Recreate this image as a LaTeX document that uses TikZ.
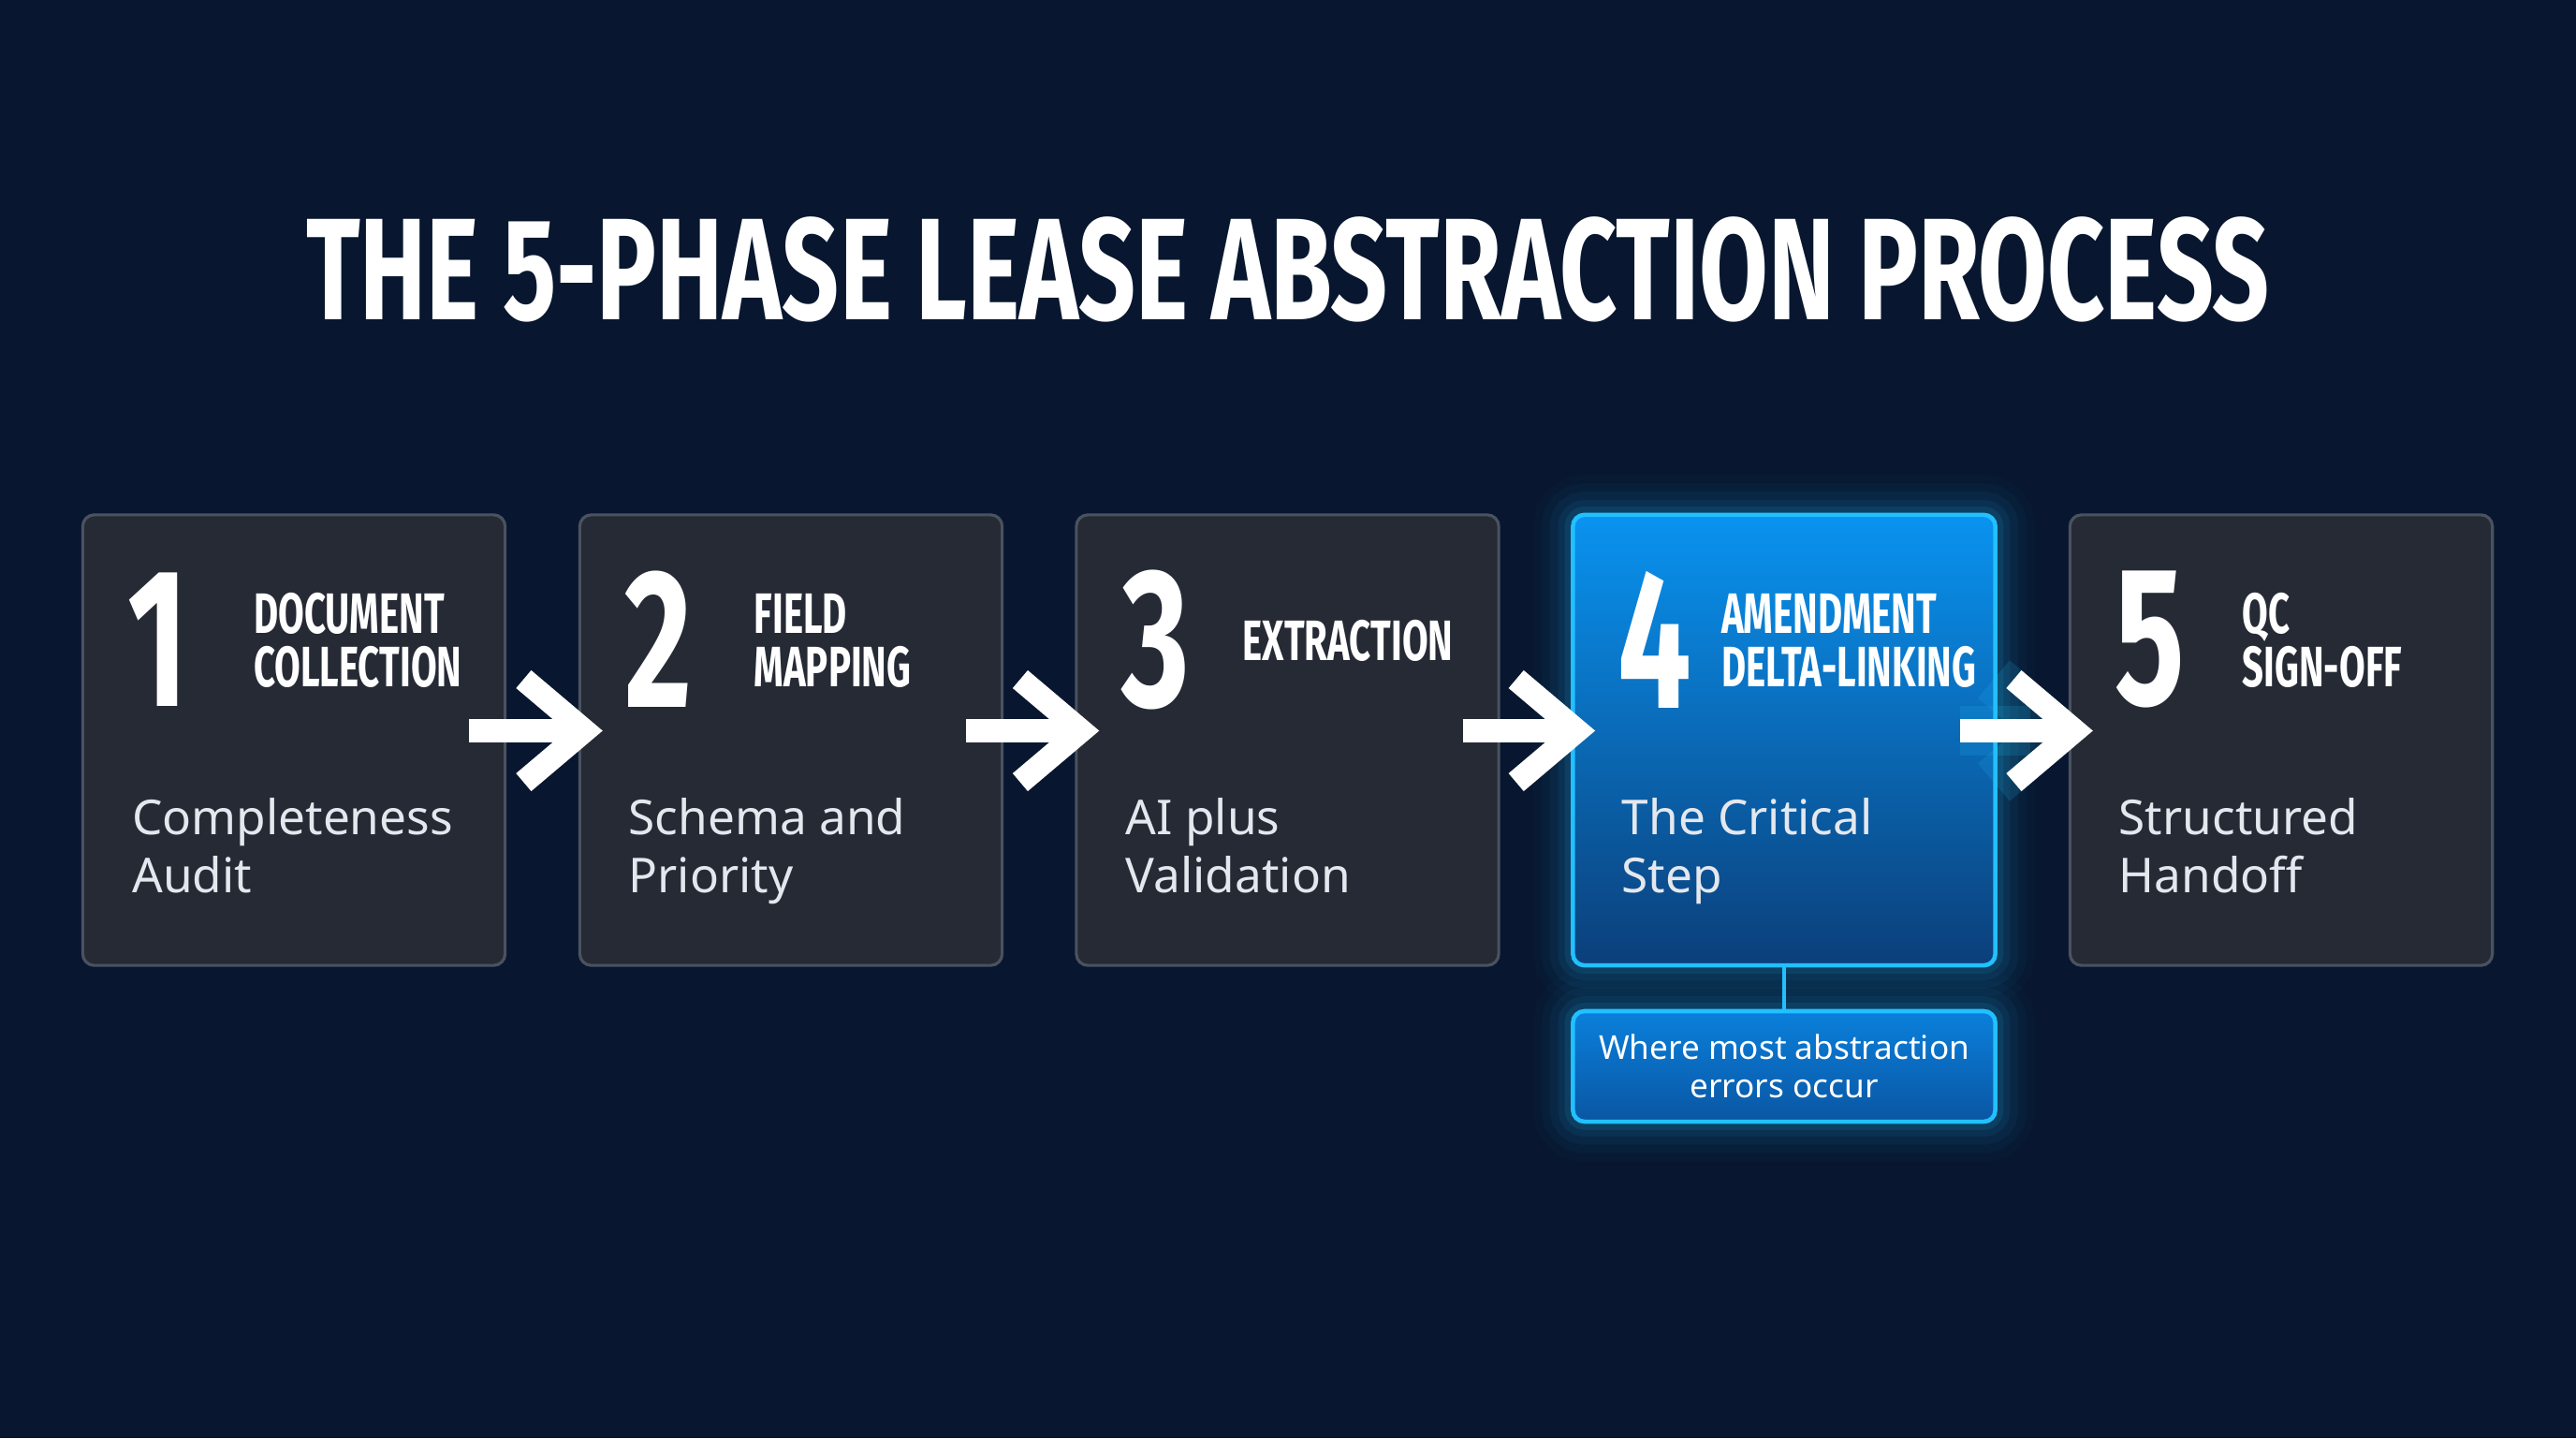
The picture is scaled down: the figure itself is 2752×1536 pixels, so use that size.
\documentclass[tikz,border=0pt]{standalone}
\usepackage{fontspec}
\setmainfont{Noto Sans}
\newfontfamily\condfont[FakeStretch=0.66]{Fira Sans}
\newfontfamily\titlefont[FakeStretch=0.69]{Fira Sans}
\usetikzlibrary{arrows.meta,calc}

\definecolor{bgnavy}{HTML}{08172F}
\definecolor{cardfill}{HTML}{252A35}
\definecolor{cardline}{HTML}{4A525F}
\definecolor{hotline}{HTML}{22C0FF}
\definecolor{hottop}{HTML}{0993F0}
\definecolor{hotbot}{HTML}{0B3F7A}
\definecolor{notetop}{HTML}{0A80DC}
\definecolor{notebot}{HTML}{0A56A3}
\definecolor{bodytext}{HTML}{E4E8EE}

\begin{document}
\begin{tikzpicture}[x=0.01cm,y=-0.01cm,
  card/.style={draw=cardline,line width=0.9pt,fill=cardfill,rounded corners=3.5pt,
    minimum width=4.51cm,minimum height=4.81cm,inner sep=0},
  glow/.style={preaction={draw=hotline,opacity=0.025,line width=24pt},
    preaction={draw=hotline,opacity=0.035,line width=19pt},
    preaction={draw=hotline,opacity=0.05,line width=14pt},
    preaction={draw=hotline,opacity=0.07,line width=9pt},
    preaction={draw=hotline,opacity=0.1,line width=5pt}},
  hotcard/.style={card,glow,draw=hotline,line width=1.3pt,top color=hottop,bottom color=hotbot},
  note/.style={glow,draw=hotline,line width=1.3pt,top color=notetop,bottom color=notebot,
    rounded corners=3.5pt,minimum width=4.51cm,minimum height=1.18cm,inner sep=0,
    align=center,text=white,font=\fontsize{10}{11.5}\selectfont},
  num/.style={font=\condfont\bfseries\fontsize{60}{60}\selectfont,text=white,anchor=west,inner sep=0},
  head/.style={font=\condfont\bfseries\fontsize{17.3}{16.2}\selectfont,text=white,
    anchor=west,align=left,inner sep=0},
  body/.style={font=\fontsize{14.6}{17.6}\selectfont,text=bodytext,anchor=north west,
    align=left,inner sep=0},
  title/.style={font=\titlefont\bfseries\fontsize{44}{44}\selectfont,text=white,inner sep=0},
  flow/.style={draw=white,line width=7.1pt,line cap=butt,
    -{Straight Barb[length=6.5mm,width=11mm,line join=miter]}},
  hotflow/.style={flow,preaction={draw=hotline,opacity=0.15,line width=15pt,
    -{Straight Barb[length=6.5mm,width=11mm]}}},
]
\fill[bgnavy] (0,0) rectangle (2752,1536);
\useasboundingbox (0,0) rectangle (2752,1536);

\node[title] (ttl) at (1376,288) {THE 5-PHASE LEASE ABSTRACTION PROCESS};

% Phase cards
\node[card] (b1) at (314,790.5) {};
\node[card] (b2) at (845,790.5) {};
\node[card] (b3) at (1375.5,790.5) {};
\node[hotcard] (b4) at (1906,790.5) {};
\node[card] (b5) at (2437,790.5) {};

% Numbers, headings and captions
\node[num] (n1) at (136,683) {1};
\node[head] (h1) at (270.5,684) {DOCUMENT\\COLLECTION};
\node[body] (t1) at (140.5,852) {Completeness\\Audit};

\node[num] (n2) at (667,683) {2};
\node[head] (h2) at (805,684) {FIELD\\MAPPING};
\node[body] (t2) at (671,852) {Schema and\\Priority};

\node[num] (n3) at (1198,683) {3};
\node[head] (h3) at (1327,684) {EXTRACTION};
\node[body] (t3) at (1202,852) {AI plus\\Validation};

\node[num] (n4) at (1728,683) {4};
\node[head] (h4) at (1838.5,684) {AMENDMENT\\DELTA-LINKING};
\node[body] (t4) at (1732,852) {The Critical\\Step};

\node[num] (n5) at (2259,683) {5};
\node[head] (h5) at (2395,684) {QC\\SIGN-OFF};
\node[body] (t5) at (2263,852) {Structured\\Handoff};

% Callout under phase 4
\node[note] (nt) at (1906,1139) {Where most abstraction\\errors occur};
\draw[hotline,line width=1.1pt] (b4.south) -- (nt.north);

% Flow arrows
\draw[flow] ($(b1.east)+(-40,-10)$) -- ($(b2.west)+(26,-10)$);
\draw[flow] ($(b2.east)+(-40,-10)$) -- ($(b3.west)+(26,-10)$);
\draw[flow] ($(b3.east)+(-40,-10)$) -- ($(b4.west)+(26,-10)$);
\draw[hotflow] ($(b4.east)+(-40,-10)$) -- ($(b5.west)+(26,-10)$);

\end{tikzpicture}
\end{document}
